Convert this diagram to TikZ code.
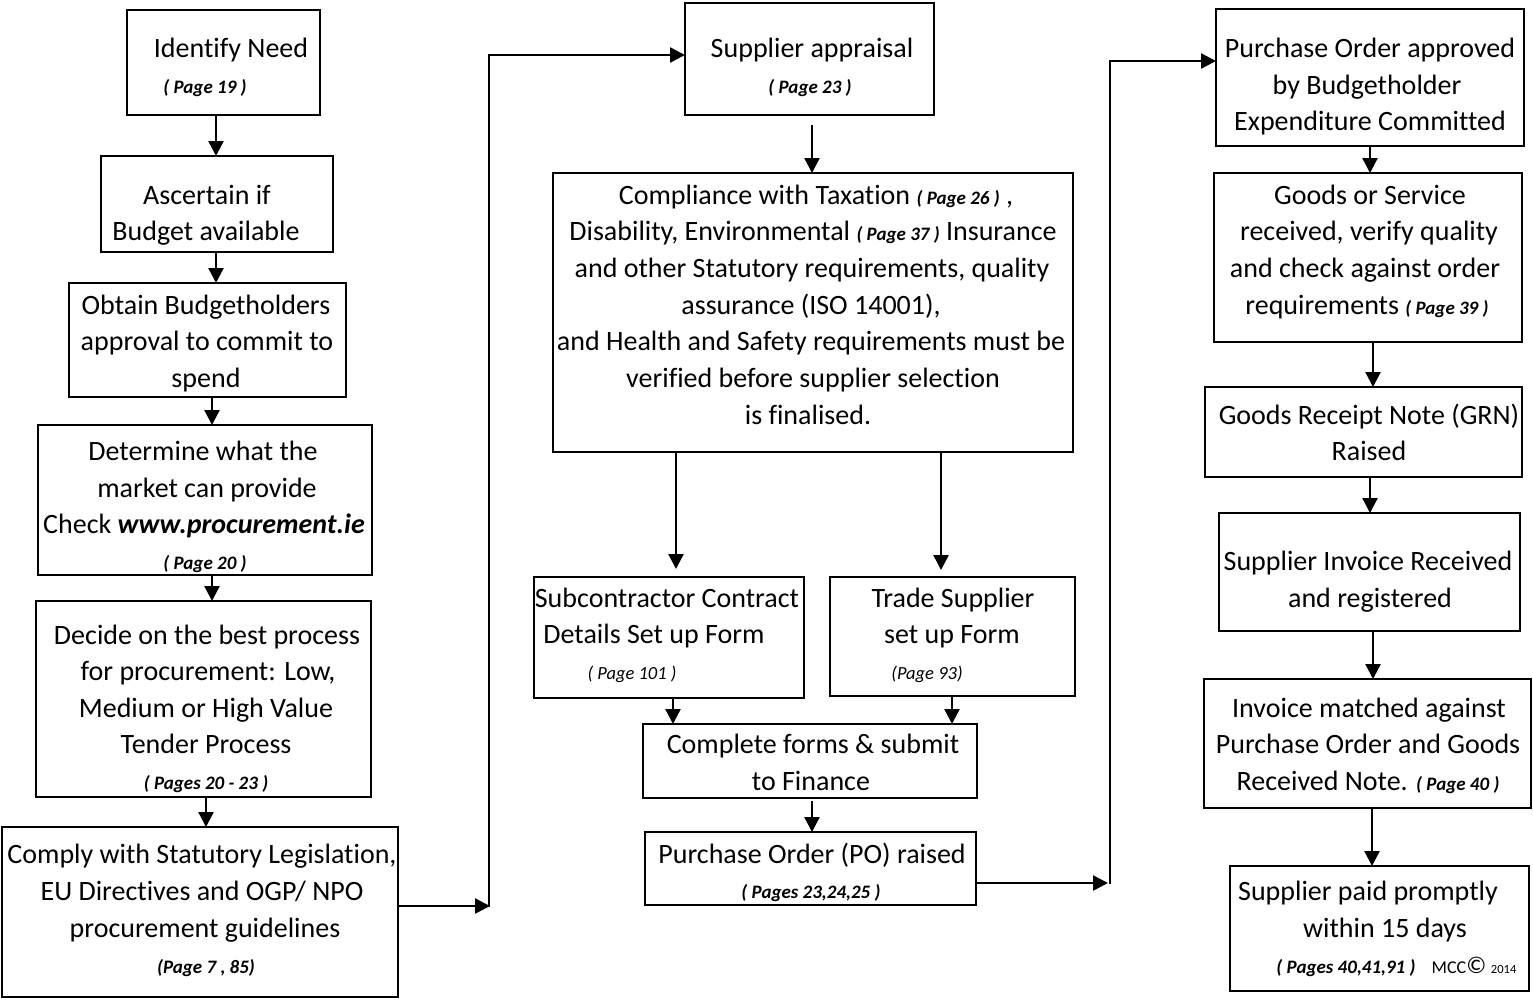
\documentclass[tikz,border=0pt]{standalone}
\usepackage{fontspec}
\setmainfont[Ligatures=NoCommon]{Carlito}
\usetikzlibrary{arrows.meta}
\newcounter{tl}
\newcommand\pg[1]{{\fontsize{19}{20}\selectfont\bfseries\itshape #1}}
\newcommand\pgl[1]{{\fontsize{18.5}{20}\selectfont\itshape #1}}
\newcommand\tline[3]{\stepcounter{tl}\node[txt] (t\thetl) at (#1,#2) {#3};}
\newcommand\bx[5]{\node[box, minimum width={#4pt-#2pt}, minimum height={#5pt-#3pt}] (#1) at ({(#2+#4)/2},{(#3+#5)/2}) {};}
\tikzset{
  box/.style={draw, line width=2.7pt, inner sep=0pt, outer sep=0pt},
  txt/.style={inner sep=0pt, anchor=base, font=\fontsize{28}{34}\selectfont},
  arr/.style={line width=2.4pt, -{Triangle[width=15pt,length=15pt]}}
}
\begin{document}
\begin{tikzpicture}[x=1pt,y=-1pt]
\fill[white] (0,0) rectangle (1533,999);
\useasboundingbox (0,0) rectangle (1533,999);
% ---------- boxes ----------
\bx{b1}{127}{10}{320}{115}
\bx{b2}{101}{156}{333}{252}
\bx{b3}{69}{283}{346}{397}
\bx{b4}{38}{425}{372}{575}
\bx{b5}{36}{601}{371}{797}
\bx{b6}{2}{827}{398}{997}
\bx{b7}{685}{3}{934}{115}
\bx{b8}{553}{173}{1073}{452}
\bx{b9}{534}{577}{804}{698}
\bx{b10}{830}{577}{1075}{696}
\bx{b11}{643}{724}{977}{798}
\bx{b12}{645}{832}{976}{905}
\bx{b13}{1216}{9}{1524}{146}
\bx{b14}{1214}{173}{1522}{342}
\bx{b15}{1205}{387}{1522}{477}
\bx{b16}{1219}{513}{1520}{631}
\bx{b17}{1204}{679}{1531}{808}
\bx{b18}{1230}{866}{1529}{991}
% ---------- texts column 1 ----------
\tline{231}{57}{Identify Need}
\tline{205}{93}{\pg{( Page 19 )}}
\tline{207}{204}{Ascertain if}
\tline{206}{240}{Budget available}
\tline{206}{314}{Obtain Budgetholders}
\tline{207}{350}{approval to commit to}
\tline{206}{387}{spend}
\tline{203}{460}{Determine what the}
\tline{207}{497}{market can provide}
\tline{204}{533}{Check \textbf{\textit{www.procurement.ie}}}
\tline{205}{569}{\pg{( Page 20 )}}
\tline{207}{644}{Decide on the best process}
\tline{208}{680}{for procurement: Low,}
\tline{206}{717}{Medium or High Value}
\tline{206}{753}{Tender Process}
\tline{206}{789}{\pg{( Pages 20 - 23 )}}
\tline{202}{863}{Comply with Statutory Legislation,}
\tline{202}{900}{EU Directives and OGP/ NPO}
\tline{205}{937}{procurement guidelines}
\tline{206}{973}{\pg{(Page 7 , 85)}}
% ---------- texts column 2 ----------
\tline{812}{57}{Supplier appraisal}
\tline{810}{93}{\pg{( Page 23 )}}
\tline{816}{204}{Compliance with Taxation \pg{( Page 26 )} ,}
\tline{813}{240}{Disability, Environmental \pg{( Page 37 )} Insurance}
\tline{812}{277}{and other Statutory requirements, quality}
\tline{811}{314}{assurance (ISO 14001),}
\tline{811}{350}{and Health and Safety requirements must be}
\tline{813}{387}{verified before supplier selection}
\tline{808}{424}{is finalised.}
\tline{667}{607}{Subcontractor Contract}
\tline{654}{643}{Details Set up Form}
\tline{632}{679}{\pgl{( Page 101 )}}
\tline{953}{607}{Trade Supplier}
\tline{952}{643}{set up Form}
\tline{927}{679}{\pgl{(Page 93)}}
\tline{813}{753}{Complete forms \& submit}
\tline{811}{790}{to Finance}
\tline{812}{863}{Purchase Order (PO) raised}
\tline{811}{898}{\pg{( Pages 23,24,25 )}}
% ---------- texts column 3 ----------
\tline{1370}{57}{Purchase Order approved}
\tline{1367}{94}{by Budgetholder}
\tline{1370}{130}{Expenditure Committed}
\tline{1370}{204}{Goods or Service}
\tline{1369}{240}{received, verify quality}
\tline{1365}{277}{and check against order}
\tline{1367}{314}{requirements \pg{( Page 39 )}}
\tline{1369}{424}{Goods Receipt Note (GRN)}
\tline{1369}{460}{Raised}
\tline{1368}{570}{Supplier Invoice Received}
\tline{1370}{607}{and registered}
\tline{1369}{717}{Invoice matched against}
\tline{1368}{753}{Purchase Order and Goods}
\tline{1368}{790}{Received Note. \pg{( Page 40 )}}
\tline{1368}{900}{Supplier paid promptly}
\tline{1385}{937}{within 15 days}
\tline{1346}{973}{\pg{( Pages 40,41,91 )}}
\tline{1474}{973}{{\fontsize{18}{20}\selectfont MCC}{\fontsize{24}{26}\selectfont\char"00A9}\,{\fontsize{12.5}{14}\selectfont 2014}}
% ---------- vertical arrows ----------
\coordinate (v1) at (216,0);
\coordinate (v3) at (212,0);
\coordinate (v5) at (206,0);
\draw[arr] (b1.south -| v1) -- (b2.north -| v1);
\draw[arr] (b2.south -| v1) -- (b3.north -| v1);
\draw[arr] (b3.south -| v3) -- (b4.north -| v3);
\draw[arr] (b4.south -| v3) -- (b5.north -| v3);
\draw[arr] (b5.south -| v5) -- (b6.north -| v5);
\coordinate (v7) at (812,125);
\draw[arr] (v7) -- (b8.north -| v7);
\coordinate (v8a) at (676,0);
\coordinate (v8b) at (941,0);
\draw[arr, shorten >=8pt] (b8.south -| v8a) -- (b9.north -| v8a);
\draw[arr, shorten >=7pt] (b8.south -| v8b) -- (b10.north -| v8b);
\coordinate (v9) at (673,0);
\coordinate (v10) at (952,0);
\coordinate (v11) at (812,0);
\draw[arr] (b9.south -| v9) -- (b11.north -| v9);
\draw[arr] (b10.south -| v10) -- (b11.north -| v10);
\draw[arr, shorten <=3pt] (b11.south -| v11) -- (b12.north -| v11);
\coordinate (w1) at (1370,0);
\coordinate (w2) at (1373,0);
\draw[arr] (b13.south -| w1) -- (b14.north -| w1);
\draw[arr] (b14.south -| w2) -- (b15.north -| w2);
\draw[arr] (b15.south -| w1) -- (b16.north -| w1);
\draw[arr] (b16.south -| w2) -- (b17.north -| w2);
\coordinate (w3) at (1372,0);
\draw[arr] (b17.south -| w3) -- (b18.north -| w3);
% ---------- long connectors ----------
\coordinate (c1) at (490,906);
\coordinate (c1b) at (489,907);
\coordinate (c1t) at (489,55);
\draw[arr] (b6.east |- c1) -- (c1);
\draw[arr] (c1b) -- (c1t) -- (b7.west |- c1t);
\coordinate (c2) at (1108,883);
\coordinate (c2b) at (1110,884);
\coordinate (c2t) at (1110,61);
\draw[arr] (b12.east |- c2) -- (c2);
\draw[arr] (c2b) -- (c2t) -- (b13.west |- c2t);
\end{tikzpicture}
\end{document}
